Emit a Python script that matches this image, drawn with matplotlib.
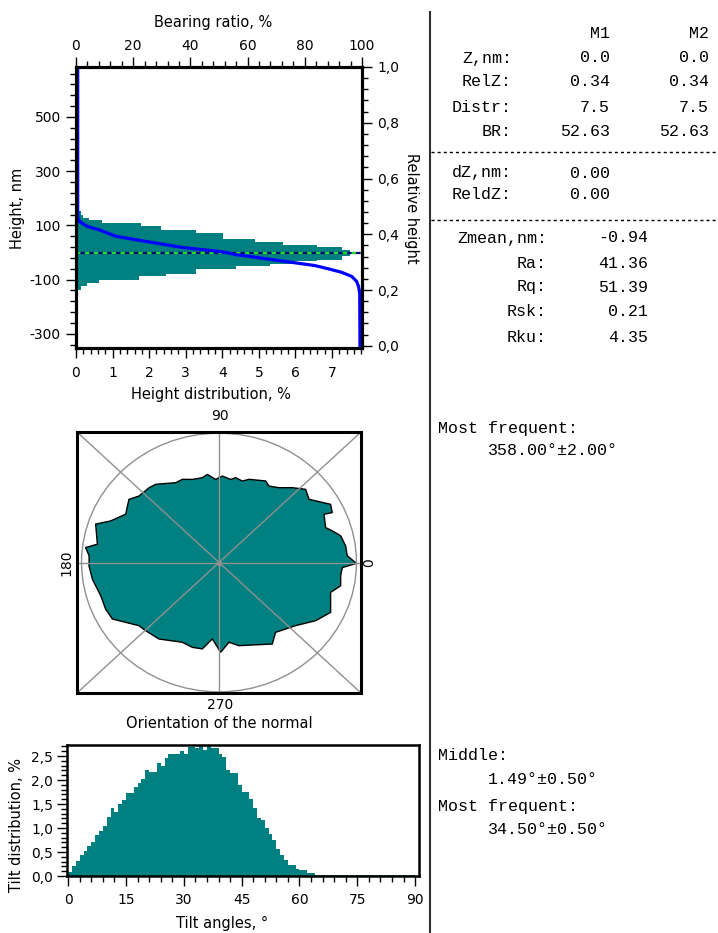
import numpy as np
import matplotlib
matplotlib.use("Agg")
import matplotlib.pyplot as plt
from matplotlib.ticker import FixedLocator, MultipleLocator, FuncFormatter
from matplotlib.lines import Line2D
from matplotlib.patches import Circle

W, H = 718, 933
teal = '#008080'

# height histogram: step edges (nm) and distribution (%)
hist_edges = [-137, -125, -112, -100, -88, -78, -61, -51, -41, -32.6, -26.3, -14.2, -3, 3,
              10.7, 20.4, 29, 37.4, 49.9, 72, 84, 96.3, 108.8, 121, 127, 140, 151.6]
hist_vals = [0.13, 0.30, 0.63, 1.73, 2.46, 3.29, 4.38, 5.30, 6.00, 6.58, 7.27, 7.50, 7.75,
             7.50, 7.27, 6.58, 5.67, 4.89, 4.02, 3.29, 2.33, 1.78, 0.70, 0.36, 0.20, 0.13]

# bearing ratio curve
br_pct = [0.6, 0.6, 1.5, 4.0, 8.0, 13.9, 21.0, 29.0, 37.0, 44.0, 48.5, 52.6, 56.0, 61.0,
          68.3, 75.3, 83.5, 88.2, 92.9, 96.4, 98.1, 98.8, 99.2, 99.3]
br_z = [684, 127, 112, 96, 84, 60, 47, 33, 19, 11, 6, 0, -8, -15,
        -26, -36, -48, -60, -73, -88, -106, -125, -150, -352]

# orientation of the normal (deg, relative radius)
orient_deg = [359.6, 3.2, 8.0, 13.1, 16.5, 19.2, 26.0, 25.1, 29.0, 36.7, 41.9, 47.3, 53.0, 58.4,
              61.7, 71.3, 74.9, 79.5, 82.5, 87.9, 92.2, 97.1, 100.5, 106.8, 112.5, 117.1, 127.3,
              131.4, 138.5, 143.3, 151.2, 157.8, 161.7, 170.9, 173.2, 176.9, 181.6, 188.0, 196.6,
              203.6, 209.4, 220.0, 224.7, 233.6, 246.6, 253.5, 259.7, 265.3, 271.0, 276.7, 282.7,
              301.6, 307.3, 318.8, 327.4, 334.6, 344.1, 348.5, 353.4, 357.5]
orient_r = [1.0, 0.935, 0.93, 0.909, 0.86, 0.821, 0.85, 0.91, 0.928, 0.817, 0.847, 0.787, 0.724, 0.694,
            0.716, 0.679, 0.652, 0.667, 0.648, 0.669, 0.643, 0.686, 0.667, 0.671, 0.696, 0.693, 0.76,
            0.77, 0.776, 0.817, 0.775, 0.851, 0.945, 0.896, 0.977, 0.946, 0.946, 0.93, 0.898,
            0.9, 0.89, 0.76, 0.75, 0.735, 0.672, 0.684, 0.679, 0.593, 0.694, 0.621, 0.659,
            0.74, 0.679, 0.741, 0.835, 0.899, 0.844, 0.903, 0.891, 0.898]

# tilt angle distribution, 1 degree bins
tilt_vals = [0.08, 0.20, 0.31, 0.43, 0.52, 0.62, 0.71, 0.85, 0.94, 1.04,
             1.23, 1.41, 1.34, 1.51, 1.59, 1.72, 1.72, 1.85, 1.93, 2.03,
             2.21, 2.17, 2.17, 2.35, 2.30, 2.45, 2.54, 2.54, 2.54, 2.61,
             2.54, 2.69, 2.69, 2.66, 2.75, 2.62, 2.71, 2.66, 2.66, 2.55,
             2.48, 2.20, 2.15, 2.15, 1.89, 1.75, 1.75, 1.61, 1.41, 1.20,
             1.16, 0.99, 0.88, 0.75, 0.57, 0.43, 0.33, 0.22, 0.22, 0.15,
             0.12, 0.12, 0.06, 0.06, 0.03, 0.02, 0.02, 0.02, 0.02, 0.02,
             0.02, 0.02, 0.02, 0.02, 0.02, 0.02, 0.02, 0.02, 0.02, 0.02,
             0.02, 0.02, 0.02, 0.02, 0.02, 0.02, 0.02, 0.02, 0.02, 0.02]
tilt_deg = list(range(90))

comma = FuncFormatter(lambda v, p: f"{v:.1f}".replace('.', ','))
intf = FuncFormatter(lambda v, p: f"{v:.0f}")

fig = plt.figure(figsize=(W / 100, H / 100), dpi=100)


def rect(x0, y0, x1, y1):
    return [x0 / W, 1 - y1 / H, (x1 - x0) / W, (y1 - y0) / H]


def ftext(x, y, s, **kw):
    kw.setdefault('fontsize', 10.5)
    fig.text(x / W, 1 - y / H, s, **kw)


def style(a, lw=2.0):
    for sp in a.spines.values():
        sp.set_linewidth(lw)
    a.tick_params(which='major', direction='out', length=7, width=1, labelsize=10)
    a.tick_params(which='minor', direction='out', length=4, width=1)


# ---------------- height distribution / bearing ratio ----------------
ax = fig.add_axes(rect(76, 67, 362, 348))
ax.stairs(hist_vals, hist_edges, orientation='horizontal', fill=True, color=teal, baseline=0)
ax.set_xlim(0, 7.82)
ax.set_ylim(-352, 684)
ax.xaxis.set_major_locator(MultipleLocator(1))
ax.xaxis.set_minor_locator(MultipleLocator(0.2))
ax.xaxis.set_major_formatter(intf)
ax.yaxis.set_major_locator(FixedLocator([-300, -100, 100, 300, 500]))
ax.yaxis.set_minor_locator(FixedLocator(np.arange(-340, 684, 40)))
ax.yaxis.set_major_formatter(intf)
style(ax, 2.2)
ax.tick_params(axis='x', pad=6)
ax.tick_params(axis='y', pad=4)

axt = ax.twiny()
axt.set_xlim(0, 100)
axt.axhline(0, color='#000080', lw=1.6)
axt.axhline(0, color='#22dd22', lw=1.6, dashes=(2, 2))
axt.plot(br_pct, br_z, color='#0000ff', lw=2.3)
axt.xaxis.set_major_locator(MultipleLocator(20))
axt.xaxis.set_minor_locator(MultipleLocator(4))
axt.xaxis.set_major_formatter(intf)
style(axt, 2.2)
axt.tick_params(axis='x', pad=3)

axr = ax.twinx()
axr.set_ylim(-0.008, 1.0)
axr.yaxis.set_major_locator(MultipleLocator(0.2))
axr.yaxis.set_minor_locator(MultipleLocator(0.04))
axr.yaxis.set_major_formatter(comma)
style(axr, 2.2)
axr.tick_params(axis='y', pad=4)

ftext(213, 23, 'Bearing ratio, %', ha='center', va='center')
ftext(18, 208, 'Height, nm', ha='center', va='center', rotation=90)
ftext(412, 208, 'Relative height', ha='center', va='center', rotation=270)
ftext(211, 395, 'Height distribution, %', ha='center', va='center')

# ---------------- orientation of the normal ----------------
axp = fig.add_axes(rect(77, 432, 361, 693))
axp.set_xlim(-1.033, 1.033)
axp.set_ylim(-1.009, 1.009)
th = np.radians(orient_deg)
r = np.array(orient_r)
axp.fill(r * np.cos(th), r * np.sin(th), facecolor=teal, edgecolor='black', lw=1, zorder=1)
axp.add_patch(Circle((0, 0), 1.0, fill=False, ec='#909090', lw=1, zorder=2))
for xs, ys in [([0, 1], [0, 1]), ([0, 1], [1, 0]), ([0.5, 0.5], [0, 1]), ([0, 1], [0.5, 0.5])]:
    axp.plot(xs, ys, color='#909090', lw=1, transform=axp.transAxes, zorder=2)
axp.plot([0], [0], 'o', color='#909090', ms=3, zorder=3)
axp.set_xticks([])
axp.set_yticks([])
for sp in axp.spines.values():
    sp.set_linewidth(2.2)

ftext(220, 416, '90', ha='center', va='center', fontsize=10)
ftext(220, 705, '270', ha='center', va='center', fontsize=10)
ftext(66, 563, '180', ha='center', va='center', rotation=90, fontsize=10)
ftext(369, 563, '0', ha='center', va='center', rotation=90, fontsize=10)
ftext(219, 723, 'Orientation of the normal', ha='center', va='center')

# ---------------- tilt distribution ----------------
axb = fig.add_axes(rect(67, 745, 419, 876))
axb.bar(tilt_deg, tilt_vals, width=1.0, align='edge', color=teal, linewidth=0)
axb.set_xlim(-0.3, 91)
axb.set_ylim(0, 2.73)
axb.xaxis.set_major_locator(MultipleLocator(15))
axb.xaxis.set_minor_locator(MultipleLocator(3))
axb.xaxis.set_major_formatter(intf)
axb.yaxis.set_major_locator(MultipleLocator(0.5))
axb.yaxis.set_minor_locator(MultipleLocator(0.1))
axb.yaxis.set_major_formatter(comma)
style(axb, 1.8)
axb.tick_params(axis='x', pad=5)
axb.tick_params(axis='y', pad=3)

ftext(17, 825, 'Tilt distribution, %', ha='center', va='center', rotation=90)
ftext(222, 923, 'Tilt angles, \u00b0', ha='center', va='center')

# ---------------- parameter panel ----------------
fig.add_artist(Line2D([430 / W, 430 / W], [1 - 12 / H, 0], color='#303030', lw=1.5))
for yy in (152, 220):
    fig.add_artist(Line2D([431 / W, 1], [1 - yy / H] * 2, color='black', lw=1, dashes=(2.2, 2.2)))

mono = dict(family='Liberation Mono', fontsize=12, va='center', color='black')
ftext(610, 33, 'M1', ha='right', **mono)
ftext(709, 33, 'M2', ha='right', **mono)

rows_top = [('Z,nm:', '0.0', '0.0', 58), ('RelZ:', '0.34', '0.34', 82),
            ('Distr:', '7.5', '7.5', 107), ('BR:', '52.63', '52.63', 131)]
for lab, v1, v2, yy in rows_top:
    ftext(512, yy, lab, ha='right', **mono)
    ftext(610, yy, v1, ha='right', **mono)
    ftext(709, yy, v2, ha='right', **mono)

for lab, v1, yy in [('dZ,nm:', '0.00', 173), ('ReldZ:', '0.00', 194)]:
    ftext(512, yy, lab, ha='right', **mono)
    ftext(610, yy, v1, ha='right', **mono)

stats = [('Zmean,nm:', '-0.94', 238), ('Ra:', '41.36', 263), ('Rq:', '51.39', 287),
         ('Rsk:', '0.21', 312), ('Rku:', '4.35', 337)]
for lab, v1, yy in stats:
    ftext(547, yy, lab, ha='right', **mono)
    ftext(648, yy, v1, ha='right', **mono)

ftext(438, 428, 'Most frequent:', ha='left', **mono)
ftext(488, 450, '358.00\u00b0\u00b12.00\u00b0', ha='left', **mono)
ftext(438, 756, 'Middle:', ha='left', **mono)
ftext(488, 780, '1.49\u00b0\u00b10.50\u00b0', ha='left', **mono)
ftext(438, 806, 'Most frequent:', ha='left', **mono)
ftext(488, 829, '34.50\u00b0\u00b10.50\u00b0', ha='left', **mono)

fig.savefig('out.png', dpi=100)
